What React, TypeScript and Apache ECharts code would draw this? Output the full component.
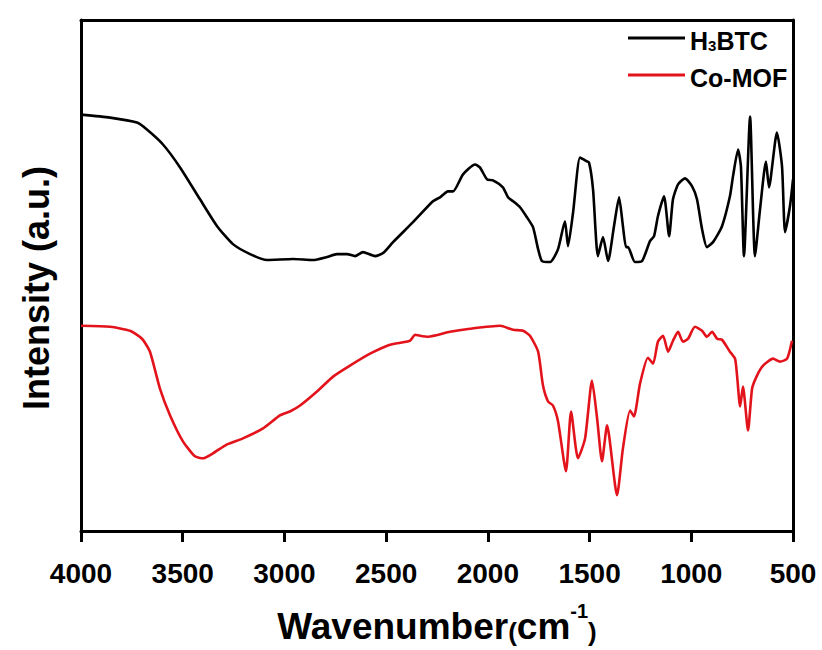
import React, { useEffect, useRef } from "react";
import * as echarts from "echarts";

// H3BTC spectrum (wavenumber cm-1, intensity a.u.)
const h3btcWavenumber = [
  4000, 3857, 3725, 3676, 3597, 3513, 3415, 3331, 3253, 3169, 3086, 2958, 2860, 2791, 2742, 2692, 2653, 2614, 2555, 2515,
  2466, 2368, 2270, 2235, 2196, 2171, 2122, 2063, 2039, 2004, 1975, 1926, 1901, 1876, 1842, 1808, 1778, 1753, 1734, 1694,
  1655, 1621, 1606, 1581, 1547, 1522, 1503, 1483, 1459, 1434, 1409, 1380, 1355, 1336, 1321, 1311, 1277, 1242, 1203, 1183,
  1164, 1134, 1109, 1090, 1065, 1031, 996, 972, 947, 923, 893, 849, 810, 795, 770, 756, 741, 711, 687, 662,
  633, 618, 579, 554, 539, 515, 500,
];
const h3btcIntensity = [
  418, 415, 410, 403, 388, 365, 333, 306, 288, 278, 272, 273, 272, 275, 278, 278, 276, 280, 276, 279,
  290, 310, 331, 335, 341, 341, 358, 368, 365, 353, 352, 345, 335, 331, 325, 315, 305, 283, 271, 270,
  283, 311, 286, 320, 375, 372, 370, 343, 276, 295, 271, 306, 335, 306, 285, 285, 270, 271, 291, 296,
  316, 336, 296, 333, 348, 354, 346, 333, 303, 285, 290, 306, 336, 356, 383, 366, 276, 416, 276, 323,
  371, 345, 400, 366, 300, 326, 353,
];

// Co-MOF spectrum
const comofWavenumber = [
  4000, 3857, 3759, 3700, 3661, 3612, 3562, 3499, 3440, 3400, 3351, 3282, 3204, 3105, 3022, 2973, 2923, 2840, 2761, 2678,
  2579, 2481, 2383, 2358, 2334, 2294, 2186, 2088, 1940, 1876, 1827, 1793, 1753, 1729, 1704, 1680, 1655, 1616, 1591, 1557,
  1522, 1488, 1463, 1439, 1414, 1365, 1336, 1301, 1282, 1252, 1213, 1188, 1164, 1139, 1114, 1090, 1065, 1041, 1016, 982,
  947, 923, 898, 873, 849, 810, 785, 775, 760, 746, 721, 701, 677, 647, 598, 564, 529, 505,
];
const comofIntensity = [
  206, 205, 201, 193, 180, 143, 116, 90, 75, 73, 78, 87, 93, 103, 116, 120, 126, 140, 155, 166,
  178, 187, 191, 197, 196, 195, 200, 203, 206, 202, 201, 196, 180, 146, 130, 126, 110, 60, 120, 73,
  93, 151, 113, 70, 106, 36, 83, 121, 115, 148, 174, 168, 190, 196, 180, 191, 200, 190, 193, 205,
  201, 195, 200, 193, 192, 180, 173, 156, 125, 145, 101, 143, 156, 166, 173, 170, 173, 191,
];

const xTicks = [4000, 3500, 3000, 2500, 2000, 1500, 1000, 500];
const xRange = [500, 4000];
const yRange = [0, 513];
const seriesNames = ["H3BTC", "Co-MOF"];
const yTitle = "Intensity (a.u.)";

const FONT = "'Liberation Sans', Arial, Helvetica, sans-serif";

export default function App() {
  const ref = useRef<HTMLDivElement>(null);
  useEffect(() => {
    if (!ref.current) return;
    const chart = echarts.init(ref.current, null, { renderer: "svg" });
    const pair = (xs: number[], ys: number[]) => xs.map((x, i) => [x, ys[i]]);
    const frameAxis = { show: true, onZero: false, lineStyle: { color: "#000", width: 3 } };
    const hidden = { axisTick: { show: false }, axisLabel: { show: false }, splitLine: { show: false } };
    chart.setOption({
      animation: false,
      backgroundColor: "#ffffff",
      grid: {
        left: 81,
        right: 29,
        top: 20,
        bottom: 117,
      },
      legend: {
        orient: "vertical",
        left: 623,
        top: 23,
        itemWidth: 57,
        itemHeight: 3,
        itemGap: 12,
        icon: "rect",
        data: seriesNames,
        textStyle: {
          fontFamily: FONT,
          fontWeight: "bold",
          fontSize: 25,
          color: "#000",
          rich: {
            n: { fontFamily: FONT, fontWeight: "bold", fontSize: 25, color: "#000", verticalAlign: "bottom", lineHeight: 30 },
            sub: { fontFamily: FONT, fontWeight: "bold", fontSize: 15, color: "#000", verticalAlign: "bottom", lineHeight: 6 },
          },
        },
        formatter: (name: string) => (name === "H3BTC" ? "{n|H}{sub|3}{n|BTC}" : "{n|" + name + "}"),
      },
      graphic: [
        {
          type: "text",
          x: 36,
          y: 288,
          rotation: Math.PI / 2,
          style: {
            text: yTitle,
            fontFamily: FONT,
            fontWeight: "bold",
            fontSize: 36,
            fill: "#000",
            textAlign: "center",
            textVerticalAlign: "middle",
          },
        },
      ],
      xAxis: [
        {
          type: "value",
          inverse: true,
          min: xRange[0],
          max: xRange[1],
          interval: 500,
          name: "{a|Wavenumber}{p|(}{a|cm}{s|-1}{p|)}",
          nameLocation: "middle",
          nameGap: 70,
          nameTextStyle: {
            rich: {
              a: { fontFamily: FONT, fontWeight: "bold", fontSize: 37, color: "#000", verticalAlign: "bottom", lineHeight: 44 },
              p: { fontFamily: FONT, fontWeight: "bold", fontSize: 26, color: "#000", verticalAlign: "bottom", lineHeight: 40 },
              s: { fontFamily: FONT, fontWeight: "bold", fontSize: 20, color: "#000", verticalAlign: "top", lineHeight: 44 },
            },
          },
          axisLine: frameAxis,
          axisTick: { show: true, inside: false, length: 11, lineStyle: { color: "#000", width: 3 } },
          axisLabel: {
            margin: 28,
            fontFamily: FONT,
            fontWeight: "bold",
            fontSize: 28,
            color: "#000",
            formatter: (v: number) => (xTicks.includes(v) ? String(v) : ""),
          },
          splitLine: { show: false },
        },
        {
          type: "value",
          position: "top",
          inverse: true,
          min: xRange[0],
          max: xRange[1],
          axisLine: frameAxis,
          ...hidden,
        },
      ],
      yAxis: [
        {
          type: "value",
          min: yRange[0],
          max: yRange[1],
          axisLine: frameAxis,
          ...hidden,
        },
        {
          type: "value",
          position: "right",
          min: yRange[0],
          max: yRange[1],
          axisLine: frameAxis,
          ...hidden,
        },
      ],
      series: [
        {
          name: seriesNames[0],
          type: "line",
          data: pair(h3btcWavenumber, h3btcIntensity),
          showSymbol: false,
          smooth: 0.2,
          lineStyle: { color: "#000", width: 2.6 },
          itemStyle: { color: "#000" },
        },
        {
          name: seriesNames[1],
          type: "line",
          data: pair(comofWavenumber, comofIntensity),
          showSymbol: false,
          smooth: 0.2,
          lineStyle: { color: "#e3131b", width: 2.6 },
          itemStyle: { color: "#e3131b" },
        },
      ],
    });
    return () => chart.dispose();
  }, []);
  return <div ref={ref} style={{ position: "fixed", left: 0, top: 0, width: 822, height: 650 }} />;
}
